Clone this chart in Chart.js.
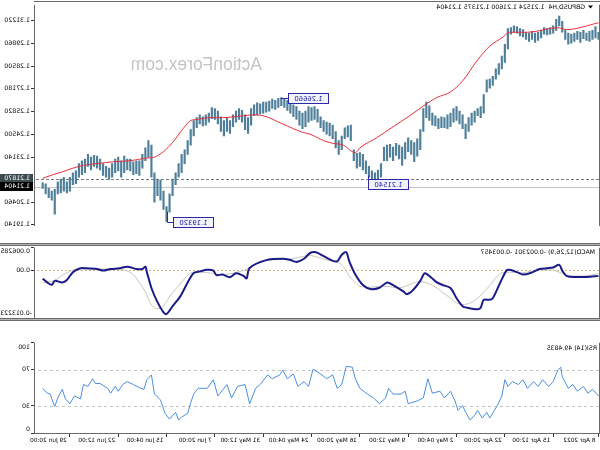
<!DOCTYPE html>
<html><head><meta charset="utf-8">
<script src="https://cdn.jsdelivr.net/npm/chart.js@4.4.0/dist/chart.umd.min.js"></script>
<style>
html,body{margin:0;padding:0;background:#fff;}
#wrap{position:relative;width:600px;height:450px;transform:scaleX(-1);overflow:hidden;background:#fff;}
#wrap canvas{position:absolute;left:0;}
</style></head><body>
<div id="wrap">
<canvas id="c1" width="600" height="243" style="top:0px"></canvas>
<canvas id="c2" width="600" height="95" style="top:243px"></canvas>
<canvas id="c3" width="600" height="112" style="top:338px"></canvas>
</div>
<script>
// ---------------- DATA ----------------
const xTickIdx = [0,30,62,94,126,158,190,222,254,286,318,350];
const xTickLabels = ['8 Apr 2022','15 Apr 12:00','22 Apr 20:00','2 May 04:00','9 May 12:00','16 May 20:00','24 May 04:00','31 May 12:00','7 Jun 20:00','15 Jun 04:00','22 Jun 12:00','29 Jun 20:00'];
const priceTicks = [1.31220,1.29860,1.28500,1.27180,1.25820,1.24500,1.23140,1.20460,1.19140];
const macdTicks = [0.006285, 0, -0.013223];
const rsiTicks = [100, 70, 30, 0];

// H4 bars, one entry per two bars (high / low)
const priceHigh = [
1.3053,1.3086,1.3064,1.3058,1.3048,1.3064,1.3053,1.3058,1.3048,1.3042,
1.3048,1.3069,1.3118,1.3148,1.3129,1.3091,1.3080,1.3075,1.3080,1.3064,
1.3053,1.3048,1.3058,1.3048,1.3053,1.3069,1.3075,1.3086,1.3091,1.3080,
1.3075,1.2982,1.2912,1.2868,1.2836,1.2792,1.2776,1.2771,1.2684,1.2613,
1.2602,1.2586,1.2575,1.2548,1.2510,1.2564,1.2586,1.2613,1.2602,1.2575,
1.2564,1.2548,1.2553,1.2542,1.2559,1.2575,1.2618,1.2640,1.2602,1.2477,
1.2423,1.2401,1.2412,1.2428,1.2401,1.2374,1.2385,1.2396,1.2374,1.2390,
1.2385,1.2374,1.2276,1.2238,1.2222,1.2233,1.2260,1.2293,1.2331,1.2341,
1.2336,1.2358,1.2504,1.2499,1.2488,1.2439,1.2412,1.2466,1.2504,1.2515,
1.2521,1.2531,1.2553,1.2597,1.2613,1.2608,1.2613,1.2586,1.2575,1.2586,
1.2613,1.2624,1.2640,1.2651,1.2662,1.2666,1.2662,1.2651,1.2657,1.2646,
1.2640,1.2640,1.2629,1.2635,1.2624,1.2602,1.2548,1.2564,1.2591,1.2602,
1.2586,1.2564,1.2531,1.2548,1.2531,1.2553,1.2586,1.2602,1.2608,1.2575,
1.2564,1.2553,1.2564,1.2548,1.2531,1.2477,1.2412,1.2358,1.2331,1.2276,
1.2222,1.2184,1.2097,1.2021,1.2113,1.2178,1.2184,1.2222,1.2385,1.2412,
1.2369,1.2331,1.2293,1.2293,1.2287,1.2303,1.2303,1.2320,1.2293,1.2314,
1.2303,1.2276,1.2249,1.2260,1.2276,1.2303,1.2320,1.2325,1.2314,1.2331,
1.2303,1.2293,1.2276,1.2233,1.2222,1.2195,1.2168,1.2195,1.2184,1.2168,
1.2124,1.2113,1.2129,1.2157,1.2162];
const priceLow = [
1.3010,1.3020,1.3010,1.2999,1.3004,1.3015,1.2993,1.3010,1.2999,1.2988,
1.2982,1.3010,1.3053,1.3091,1.3064,1.3048,1.3042,1.3037,1.3042,1.3020,
1.3004,1.2993,1.3010,1.2999,1.3010,1.3026,1.3031,1.3048,1.3053,1.3042,
1.2955,1.2874,1.2836,1.2803,1.2776,1.2738,1.2722,1.2700,1.2575,1.2548,
1.2559,1.2521,1.2504,1.2466,1.2423,1.2483,1.2510,1.2531,1.2521,1.2494,
1.2483,1.2488,1.2488,1.2483,1.2499,1.2504,1.2531,1.2548,1.2466,1.2358,
1.2320,1.2287,1.2331,1.2347,1.2303,1.2265,1.2303,1.2325,1.2293,1.2314,
1.2293,1.2293,1.2195,1.2168,1.2154,1.2178,1.2195,1.2217,1.2238,1.2260,
1.2249,1.2293,1.2412,1.2434,1.2423,1.2358,1.2331,1.2369,1.2423,1.2439,
1.2450,1.2466,1.2488,1.2521,1.2537,1.2531,1.2521,1.2494,1.2483,1.2504,
1.2537,1.2553,1.2575,1.2591,1.2608,1.2618,1.2608,1.2597,1.2602,1.2586,
1.2580,1.2575,1.2570,1.2564,1.2559,1.2504,1.2455,1.2477,1.2521,1.2537,
1.2521,1.2494,1.2455,1.2466,1.2439,1.2466,1.2510,1.2537,1.2542,1.2521,
1.2504,1.2499,1.2510,1.2488,1.2439,1.2385,1.2331,1.2276,1.2222,1.2195,
1.2151,1.2086,1.1988,1.1932,1.2005,1.2059,1.2086,1.2048,1.2195,1.2314,
1.2293,1.2249,1.2206,1.2217,1.2211,1.2233,1.2238,1.2222,1.2195,1.2233,
1.2222,1.2195,1.2184,1.2195,1.2206,1.2238,1.2249,1.2260,1.2238,1.2260,
1.2222,1.2211,1.2195,1.2157,1.2151,1.2113,1.2102,1.2113,1.2102,1.2097,
1.1977,1.2059,1.2075,1.2097,1.2129];
const priceIdx = priceHigh.map((_, k) => k * 2);

const maIdx = [0,21,27,47,59,63,72,80,90,98,107,113,125,136,147,158,161,169,176,182,191,196,209,222,229,235,249,257,266,270,275,282,288,294,299,310,321,332,341,348,355,361,368];
const maVal = [1.3109,1.3069,1.3080,1.3053,1.3053,1.3026,1.2971,1.2890,1.2765,1.2700,1.2667,1.2635,1.2559,1.2494,1.2428,1.2369,1.2341,1.2385,1.2396,1.2412,1.2450,1.2461,1.2510,1.2559,1.2564,1.2559,1.2548,1.2548,1.2537,1.2531,1.2483,1.2401,1.2347,1.2314,1.2309,1.2293,1.2287,1.2276,1.2265,1.2249,1.2227,1.2211,1.2189];

const macdIdx = [0,8,14,21,24,26,30,34,39,45,50,54,59,61,65,70,72,76,78,80,87,90,94,98,103,107,111,115,118,123,127,129,136,140,145,151,156,161,165,167,170,173,177,182,187,191,195,200,204,209,220,231,233,235,240,244,249,253,255,259,264,268,272,277,282,286,288,292,296,299,300,302,306,312,317,323,328,332,339,343,348,352,355,360,362,365,368];
const macdVal = [-0.00153,-0.00182,-0.00182,-0.00160,-0.00007,0.00153,0.00081,0.00059,0.00037,-0.00072,
-0.00116,-0.00050,0.00015,-0.00007,-0.00335,-0.00774,-0.00818,-0.00818,-0.01037,-0.01081,
-0.01037,-0.00993,-0.00774,-0.00489,-0.00408,-0.00335,-0.00189,-0.00079,-0.00292,-0.00555,
-0.00664,-0.00592,-0.00408,-0.00335,-0.00482,-0.00517,-0.00408,-0.00116,0.00250,0.00504,
0.00432,0.00250,0.00285,0.00395,0.00504,0.00482,0.00322,0.00235,0.00285,0.00322,
0.00285,0.00066,-0.00226,-0.00153,-0.00079,-0.00189,-0.00116,-0.00132,-0.00007,0.00015,
-0.00028,-0.00072,-0.00335,-0.00730,-0.00993,-0.01212,-0.01168,-0.00883,-0.00489,-0.00050,
0.00103,0.00037,0.00037,0.00103,0.00059,0.00037,-0.00007,0.00037,0.00059,0.00059,
-0.00050,-0.00270,-0.00335,-0.00292,-0.00401,-0.00335,-0.00230];

const sigIdx = [0,12,21,26,32,39,45,52,59,62,67,72,76,80,85,90,94,98,103,107,113,118,123,128,133,140,145,151,158,161,165,168,171,176,181,186,191,198,204,211,220,227,232,237,244,250,257,264,268,272,277,282,286,290,294,297,300,304,308,313,320,330,339,345,350,355,360,367,368];
const sigVal = [-0.00094,-0.00160,-0.00138,-0.00050,0.00015,0.00015,-0.00028,-0.00072,-0.00050,-0.00050,
-0.00160,-0.00423,-0.00598,-0.00774,-0.00905,-0.00949,-0.00905,-0.00774,-0.00620,-0.00489,
-0.00357,-0.00313,-0.00357,-0.00445,-0.00489,-0.00445,-0.00445,-0.00467,-0.00445,-0.00335,
-0.00160,0.00059,0.00191,0.00256,0.00300,0.00366,0.00410,0.00366,0.00322,0.00300,
0.00278,0.00191,0.00059,-0.00028,-0.00094,-0.00116,-0.00072,-0.00050,-0.00050,-0.00138,
-0.00379,-0.00620,-0.00861,-0.01059,-0.01037,-0.00883,-0.00598,-0.00335,-0.00116,-0.00007,
0.00037,0.00037,0.00037,0.00037,-0.00028,-0.00138,-0.00280,-0.00330,-0.00346];

const rsiIdx = [0,4,7,10,14,17,20,24,25,27,30,33,37,40,43,47,50,53,57,60,62,64,67,69,72,74,77,80,82,85,88,90,93,95,98,102,105,110,113,116,120,126,128,131,136,139,141,145,149,153,158,161,163,167,170,173,176,180,184,189,192,195,199,202,206,209,211,216,219,224,227,231,234,239,243,246,252,255,259,265,268,270,272,276,278,280,284,287,290,294,296,299,301,303,308,312,315,318,320,323,325,330,333,335,338,341,343,347,350,353,355,358,360,361,363,365,368];
const rsiVal = [41.0,48.4,44.1,51.6,46.3,53.7,49.5,62.2,72.9,69.7,
56.9,51.6,59.0,51.6,56.9,49.5,59.0,53.7,56.9,51.6,
59.0,41.0,30.3,25.0,16.5,22.9,16.5,25.0,19.7,14.4,
22.9,30.3,25.0,35.6,46.3,38.8,46.3,44.1,60.1,38.8,
35.6,32.4,46.3,43.1,43.1,49.5,38.8,32.4,38.8,43.1,
49.5,60.1,72.9,73.9,53.7,49.5,64.4,60.1,65.4,70.7,
51.6,56.9,51.6,65.4,60.1,69.7,64.4,60.1,64.4,53.7,
49.5,32.4,53.7,51.6,38.8,53.7,41.0,59.0,49.5,49.5,
43.1,33.5,21.8,17.6,14.4,22.9,15.4,21.8,36.7,43.1,
64.4,59.0,48.4,49.5,53.7,56.9,53.7,46.3,51.6,44.1,
49.5,54.8,54.8,60.1,51.6,53.7,37.8,41.0,32.4,37.8,
48.4,38.8,29.3,33.5,43.1,44.1,49.48];

const hLineDashed = 1.21870;
const hLineBid = 1.21404;
const titleMain = 'GBPUSD,H4  1.21524 1.21600 1.21375 1.21404';
const titleMacd = 'MACD(12,26,9) -0.002301 -0.003457';
const titleRsi = 'RSI(14) 49.4835';
const watermark = 'ActionForex.com';
const annText = ['1.26660','1.21540','1.19320'];
const annPrice = [1.26660, 1.21540, 1.19320];
const annBoxIdx = [205, 152, 281];
const annTipIdx = [210, 152, 285];
const annTipPrice = [1.26660, 1.22110, 1.19940];

// ---------------- SETUP ----------------
const FONT = 'DejaVu Sans';
const X_MIN = -0.33, X_MAX = 373.74;
const Y_MIN = 1.19068, Y_MAX = 1.32159;
const FRAME = '#6a6a6a';

function xAxis(show){
  return {type:'linear', min:X_MIN, max:X_MAX, offset:false, display:show,
    grid:{display:true, offset:false, drawOnChartArea:false, drawTicks:true, tickLength:4, color:'#333'},
    border:{display:false},
    afterBuildTicks:s=>{ s.ticks = xTickIdx.map(v=>({value:v})); },
    afterFit:s=>{ s.height = 17; },
    ticks:{autoSkip:false, maxRotation:0, minRotation:0, align:'start', labelOffset:3, padding:0,
      color:'#000', font:{family:FONT, size:5.8},
      callback:(v)=>{ const k = xTickIdx.indexOf(v); return k>=0 ? xTickLabels[k] : ''; }}
  };
}
function yAxis(min, max, arr, cb){
  return {type:'linear', position:'right', min, max, beginAtZero:false,
    grid:{drawOnChartArea:false, drawTicks:true, tickLength:3, color:'#333'},
    border:{display:false},
    afterBuildTicks:s=>{ s.ticks = arr.map(v=>({value:v})); },
    afterFit:s=>{ s.width = 34; },
    ticks:{autoSkip:false, padding:1, color:'#000', font:{family:FONT, size:6.2}, callback:cb}
  };
}
function vFrame(ctx, a){
  ctx.fillStyle = FRAME;
  ctx.fillRect(0, a.top, 1, a.bottom - a.top);
  ctx.fillRect(a.right - 1, a.top, 1, a.bottom - a.top);
}
const baseOpts = {responsive:false, animation:false, devicePixelRatio:1,
  plugins:{legend:{display:false}, tooltip:{enabled:false}}};

// ---------------- MAIN PRICE CHART ----------------
const mainPlugin = {id:'mainDeco',
  beforeDatasetsDraw(chart){
    const {ctx, chartArea:a, scales:{y}} = chart;
    ctx.save();
    ctx.font = '17.5px "Liberation Sans"'; ctx.fillStyle = '#c4c4c4';
    ctx.textBaseline = 'middle'; ctx.textAlign = 'left';
    ctx.fillText(watermark, 338, 65);
    let yy = Math.round(y.getPixelForValue(hLineDashed)) + 0.5;
    ctx.strokeStyle = '#7a7a7a'; ctx.lineWidth = 1; ctx.setLineDash([3,2]);
    ctx.beginPath(); ctx.moveTo(a.left, yy); ctx.lineTo(a.right, yy); ctx.stroke();
    yy = Math.round(y.getPixelForValue(hLineBid)) + 0.5;
    ctx.setLineDash([]); ctx.strokeStyle = '#c6c6c6';
    ctx.beginPath(); ctx.moveTo(a.left, yy); ctx.lineTo(a.right, yy); ctx.stroke();
    ctx.restore();
  },
  afterDraw(chart){
    const {ctx, chartArea:a, scales:{x, y}} = chart;
    ctx.save();
    vFrame(ctx, a);
    ctx.fillStyle = FRAME; ctx.fillRect(0, 1, a.right, 1);
    // title
    ctx.fillStyle = '#000';
    ctx.beginPath(); ctx.moveTo(7, 5.5); ctx.lineTo(12, 5.5); ctx.lineTo(9.5, 8.5); ctx.closePath(); ctx.fill();
    ctx.font = '6.2px "' + FONT + '"'; ctx.textBaseline = 'middle'; ctx.textAlign = 'left';
    ctx.fillText(titleMain, 15, 7.5);
    // axis price boxes
    const boxes = [[hLineDashed, '#3d4d4f'], [hLineBid, '#000000']];
    boxes.forEach(([p, bg])=>{
      const yp = y.getPixelForValue(p);
      ctx.fillStyle = bg; ctx.fillRect(a.right + 1, Math.round(yp - 4.5), 33, 9);
      ctx.fillStyle = '#ffffff'; ctx.fillText(p.toFixed(5), a.right + 4, yp);
    });
    // annotation labels
    ctx.lineWidth = 1;
    ctx.font = '6.8px "' + FONT + '"';
    for (let k = 0; k < annText.length; k++){
      const yc = Math.round(y.getPixelForValue(annPrice[k])) + 0.5;
      const xr = Math.round(x.getPixelForValue(annBoxIdx[k])) + 0.5;
      const xt = Math.round(x.getPixelForValue(annTipIdx[k])) + 0.5;
      const yt = Math.round(y.getPixelForValue(annTipPrice[k])) + 0.5;
      ctx.strokeStyle = '#2a2aa8';
      ctx.beginPath(); ctx.moveTo(xr, yc); ctx.lineTo(xt, yc); ctx.lineTo(xt, yt); ctx.stroke();
      const tw = ctx.measureText(annText[k]).width;
      const w = Math.round(tw + 12), h = 10;
      ctx.fillStyle = '#f3f3ff'; ctx.fillRect(xr - w, yc - h/2, w, h);
      ctx.strokeRect(xr - w, yc - h/2, w, h);
      ctx.fillStyle = '#1c1c9c'; ctx.textAlign = 'center';
      ctx.fillText(annText[k], xr - w/2, yc + 0.5);
      ctx.textAlign = 'left';
    }
    ctx.restore();
  }
};

new Chart(document.getElementById('c1'), {
  type:'bar',
  data:{datasets:[
    {type:'line', label:'MA', data:maIdx.map((v,k)=>({x:v, y:maVal[k]})),
      borderColor:'#e8303c', borderWidth:1, pointRadius:0, cubicInterpolationMode:'monotone', order:0},
    {type:'bar', label:'GBPUSD', data:priceIdx.map((v,k)=>({x:v, y:[priceLow[k], priceHigh[k]]})),
      backgroundColor:'#4f7f99', barThickness:1.5, order:1}
  ]},
  options:Object.assign({}, baseOpts, {
    layout:{autoPadding:false, padding:{left:1, right:0, top:2, bottom:0}},
    scales:{x:xAxis(false), y:yAxis(Y_MIN, Y_MAX, priceTicks, v=>v.toFixed(5))}
  }),
  plugins:[mainPlugin]
});

// ---------------- MACD ----------------
const macdPlugin = {id:'macdDeco',
  beforeDatasetsDraw(chart){
    const {ctx, chartArea:a, scales:{y}} = chart;
    ctx.save();
    const y0 = Math.round(y.getPixelForValue(0)) + 0.5;
    ctx.strokeStyle = '#d6b27c'; ctx.lineWidth = 1; ctx.setLineDash([2,2]);
    ctx.beginPath(); ctx.moveTo(a.left, y0); ctx.lineTo(a.right, y0); ctx.stroke();
    ctx.restore();
  },
  afterDraw(chart){
    const {ctx, chartArea:a, scales:{y}, width} = chart;
    ctx.save();
    ctx.fillStyle = FRAME; ctx.fillRect(0, 0, width, 1); ctx.fillRect(0, 2, width, 1);
    ctx.fillStyle = '#b4b4b4'; ctx.fillRect(0, 1, width, 1);
    ctx.fillStyle = FRAME; ctx.fillRect(0, a.bottom, width, 1); ctx.fillRect(0, a.bottom + 2, width, 1);
    ctx.fillStyle = '#b4b4b4'; ctx.fillRect(0, a.bottom + 1, width, 1);
    vFrame(ctx, a);
    ctx.fillStyle = '#000'; ctx.font = '6.2px "' + FONT + '"';
    ctx.textBaseline = 'middle'; ctx.textAlign = 'left';
    ctx.fillText(titleMacd, 5, 9.7);
    ctx.fillText(macdTicks[0].toFixed(6), a.right + 4, y.getPixelForValue(macdTicks[0]) + 4);
    ctx.fillText(macdTicks[2].toFixed(6), a.right + 2, y.getPixelForValue(macdTicks[2]) - 4.5);
    ctx.restore();
  }
};
new Chart(document.getElementById('c2'), {
  type:'line',
  data:{datasets:[
    {label:'MACD', data:macdIdx.map((v,k)=>({x:v, y:macdVal[k]})), borderColor:'#1a1a88', borderWidth:2,
      pointRadius:0, tension:0.3, order:0},
    {label:'Signal', data:sigIdx.map((v,k)=>({x:v, y:sigVal[k]})), borderColor:'#c6c6bc', borderWidth:1,
      pointRadius:0, cubicInterpolationMode:'monotone', order:1}
  ]},
  options:Object.assign({}, baseOpts, {
    layout:{autoPadding:false, padding:{left:1, right:0, top:3, bottom:3}},
    scales:{x:xAxis(false), y:yAxis(macdTicks[2], macdTicks[0], macdTicks, v=>v===0?'0.00':'')}
  }),
  plugins:[macdPlugin]
});

// ---------------- RSI ----------------
const rsiPlugin = {id:'rsiDeco',
  beforeDatasetsDraw(chart){
    const {ctx, chartArea:a, scales:{y}} = chart;
    ctx.save();
    ctx.strokeStyle = '#c4c4c4'; ctx.lineWidth = 1; ctx.setLineDash([3,3]);
    [70, 30].forEach(v=>{
      const yy = Math.round(y.getPixelForValue(v)) + 0.5;
      ctx.beginPath(); ctx.moveTo(a.left, yy); ctx.lineTo(a.right, yy); ctx.stroke();
    });
    ctx.restore();
  },
  afterDraw(chart){
    const {ctx, chartArea:a, scales:{y}} = chart;
    ctx.save();
    vFrame(ctx, a);
    ctx.fillStyle = FRAME; ctx.fillRect(0, a.bottom, a.right, 1);
    ctx.fillStyle = '#000'; ctx.font = '6.2px "' + FONT + '"';
    ctx.textBaseline = 'middle'; ctx.textAlign = 'left';
    ctx.fillText(titleRsi, 3, 10.3);
    ctx.fillText(String(rsiTicks[0]), a.right + 4, y.getPixelForValue(rsiTicks[0]) + 5);
    ctx.fillText(String(rsiTicks[3]), a.right + 4, y.getPixelForValue(rsiTicks[3]) - 4);
    ctx.restore();
  }
};
new Chart(document.getElementById('c3'), {
  type:'line',
  data:{datasets:[
    {label:'RSI', data:rsiIdx.map((v,k)=>({x:v, y:rsiVal[k]})), borderColor:'#4a8fe0', borderWidth:1,
      pointRadius:0, tension:0}
  ]},
  options:Object.assign({}, baseOpts, {
    layout:{autoPadding:false, padding:{left:1, right:0, top:1, bottom:0}},
    scales:{x:xAxis(true), y:yAxis(0, 100, rsiTicks, v=>(v===70||v===30)?String(v):'')}
  }),
  plugins:[rsiPlugin]
});
</script>
</body></html>
